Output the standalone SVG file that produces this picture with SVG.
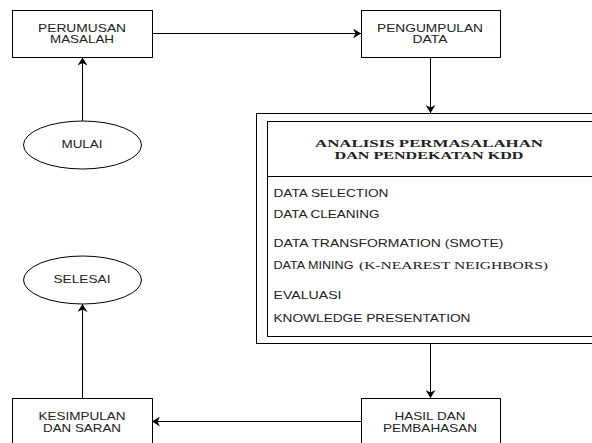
<svg xmlns="http://www.w3.org/2000/svg" width="592" height="443" viewBox="0 0 592 443">
<style>
  .box{fill:#fff;stroke:#000;stroke-width:1}
  .t{font-family:"Liberation Sans",Arial,sans-serif;font-size:10.5px;fill:#222}
  .c{text-anchor:middle}
  .s{font-family:"Liberation Serif","Times New Roman",serif;font-size:10.5px;fill:#222}
  .b{font-weight:bold;font-size:11px}
  .edge{fill:none;stroke:#000;stroke-width:1}
</style>
<defs>
  <marker id="arr" viewBox="0 0 8 10" refX="8" refY="5" markerWidth="8" markerHeight="10" markerUnits="userSpaceOnUse" orient="auto">
    <path d="M0,0 L8,5 L0,10 L2.5,5 z" fill="#000"/>
  </marker>
</defs>
<rect width="592" height="443" fill="#fff"/>

<g id="connectors">
  <path class="edge" d="M82.5,121 V57.5" marker-end="url(#arr)"/>
  <path class="edge" d="M152,33.5 H361" marker-end="url(#arr)"/>
  <path class="edge" d="M430.5,57 V113" marker-end="url(#arr)"/>
  <path class="edge" d="M430.5,343 V398" marker-end="url(#arr)"/>
  <path class="edge" d="M361,421.5 H152" marker-end="url(#arr)"/>
  <path class="edge" d="M82.5,398 V304" marker-end="url(#arr)"/>
</g>

<g id="perumusan">
  <rect class="box" x="12.5" y="10.5" width="140" height="47"/>
  <text class="t c" transform="translate(82,31.7) scale(1.29,1)" textLength="68.2" lengthAdjust="spacingAndGlyphs">PERUMUSAN</text>
  <text class="t c" transform="translate(82,43.3) scale(1.29,1)" textLength="49.6" lengthAdjust="spacingAndGlyphs">MASALAH</text>
</g>

<g id="pengumpulan">
  <rect class="box" x="361.5" y="10.5" width="139" height="47"/>
  <text class="t c" transform="translate(430,31.7) scale(1.29,1)" textLength="82.2" lengthAdjust="spacingAndGlyphs">PENGUMPULAN</text>
  <text class="t c" transform="translate(430,43.3) scale(1.29,1)" textLength="27.1" lengthAdjust="spacingAndGlyphs">DATA</text>
</g>

<g id="mulai">
  <ellipse class="box" cx="82.5" cy="145" rx="59" ry="24"/>
  <text class="t c" transform="translate(82,148.3) scale(1.29,1)" textLength="31.8" lengthAdjust="spacingAndGlyphs">MULAI</text>
</g>

<g id="selesai">
  <ellipse class="box" cx="82.5" cy="280" rx="59" ry="24"/>
  <text class="t c" transform="translate(82,283.3) scale(1.29,1)" textLength="44.2" lengthAdjust="spacingAndGlyphs">SELESAI</text>
</g>

<g id="analisis">
  <rect class="box" x="256.5" y="113.5" width="360" height="230"/>
  <rect class="box" x="267.5" y="121.5" width="340" height="215"/>
  <line x1="267.5" y1="176.5" x2="607" y2="176.5" stroke="#000" stroke-width="1"/>
  <text class="s b c" transform="translate(429,147.3) scale(1.55,1)" textLength="147.1" lengthAdjust="spacingAndGlyphs">ANALISIS PERMASALAHAN</text>
  <text class="s b c" transform="translate(429,159.3) scale(1.55,1)" textLength="121.9" lengthAdjust="spacingAndGlyphs">DAN PENDEKATAN KDD</text>
  <text class="t" transform="translate(273.5,196.7) scale(1.29,1)" textLength="89.1" lengthAdjust="spacingAndGlyphs">DATA SELECTION</text>
  <text class="t" transform="translate(273.5,217.7) scale(1.29,1)" textLength="82.2" lengthAdjust="spacingAndGlyphs">DATA CLEANING</text>
  <text class="t" transform="translate(273.5,246.7) scale(1.29,1)" textLength="178.3" lengthAdjust="spacingAndGlyphs">DATA TRANSFORMATION (SMOTE)</text>
  <text class="t" transform="translate(273.5,269.3) scale(1.29,1)" textLength="62" lengthAdjust="spacingAndGlyphs">DATA MINING</text>
  <text class="s" transform="translate(359,269.3) scale(1.45,1)" textLength="130.3" lengthAdjust="spacingAndGlyphs">(K-NEAREST NEIGHBORS)</text>
  <text class="t" transform="translate(273.5,298.7) scale(1.29,1)" textLength="52.7" lengthAdjust="spacingAndGlyphs">EVALUASI</text>
  <text class="t" transform="translate(273.5,321.7) scale(1.29,1)" textLength="152.7" lengthAdjust="spacingAndGlyphs">KNOWLEDGE PRESENTATION</text>
</g>

<g id="hasil">
  <rect class="box" x="361.5" y="398.5" width="139" height="47"/>
  <text class="t c" transform="translate(430,420.3) scale(1.29,1)" textLength="55" lengthAdjust="spacingAndGlyphs">HASIL DAN</text>
  <text class="t c" transform="translate(430,432.3) scale(1.29,1)" textLength="72.9" lengthAdjust="spacingAndGlyphs">PEMBAHASAN</text>
</g>

<g id="kesimpulan">
  <rect class="box" x="12.5" y="398.5" width="140" height="47"/>
  <text class="t c" transform="translate(82,420.3) scale(1.29,1)" textLength="67.4" lengthAdjust="spacingAndGlyphs">KESIMPULAN</text>
  <text class="t c" transform="translate(82,432.3) scale(1.29,1)" textLength="60.5" lengthAdjust="spacingAndGlyphs">DAN SARAN</text>
</g>
</svg>
